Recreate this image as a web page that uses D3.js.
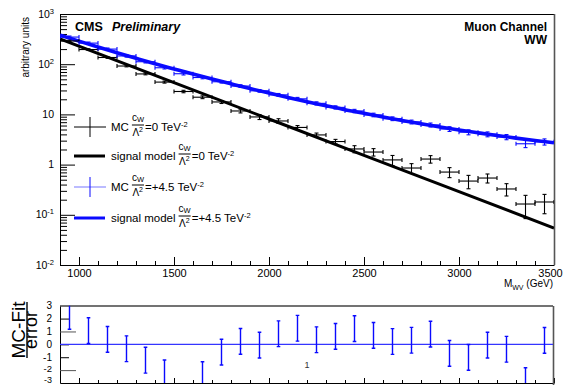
<!DOCTYPE html>
<html>
<head>
<meta charset="utf-8">
<script src="https://cdn.jsdelivr.net/npm/d3@7"></script>
<style>
  body { margin: 0; background: #fff; }
  svg { display: block; }
</style>
</head>
<body>
<svg id="chart" width="563" height="385"></svg>
<script>
// bin centres (GeV), 100 GeV wide
const massBins = [950, 1050, 1150, 1250, 1350, 1450, 1550, 1650, 1750, 1850,
  1950, 2050, 2150, 2250, 2350, 2450, 2550, 2650, 2750, 2850,
  2950, 3050, 3150, 3250, 3350, 3450];
const binWidth = 100;

// MC, cW/L^2 = 0
const mcSM = [290, 196, 136, 92, 64, 44, 28.6, 22, 17.7, 11.7,
  8.9, 7.4, 5.5, 3.9, 2.88, 2.05, 1.78, 1.24, 0.855, 1.29,
  0.71, 0.47, 0.54, 0.327, 0.164, 0.18];
const mcSMErr = [10, 7, 5, 3.5, 2.6, 2.0, 1.6, 1.4, 1.2, 1.0,
  1.0, 0.8, 0.5, 0.35, 0.3, 0.33, 0.3, 0.28, 0.19, 0.22,
  0.16, 0.14, 0.11, 0.09, 0.08, 0.075];

// MC, cW/L^2 = +4.5
const mcAQGC = [347, 263, 200, 146, 112, 85, 64.6, 54.3, 44.7, 36.7,
  29.5, 24.5, 20.4, 16.6, 13.8, 11.7, 9.77, 8.22, 7.08, 6.17,
  5.13, 4.42, 4.03, 3.55, 2.6, 2.85];
const mcAQGCErr = [17, 13, 10, 7.5, 6, 4.6, 3.6, 3.1, 2.6, 2.2,
  1.8, 1.6, 1.4, 1.2, 1.0, 0.9, 0.8, 0.7, 0.62, 0.56,
  0.55, 0.5, 0.45, 0.42, 0.42, 0.4];

// signal models
const smModelMass = [900, 1500, 2000, 2500, 3000, 3500];
const smModel = [318, 43, 8.1, 1.53, 0.289, 0.0546];
const aqgcModelMass = [900, 1000, 1100, 1200, 1300, 1400, 1500, 1600, 1700, 1800,
  1900, 2000, 2100, 2200, 2300, 2400, 2500, 2600, 2700, 2800,
  2900, 3000, 3100, 3200, 3300, 3400, 3500];
const aqgcModel = [380, 288, 220, 169, 131, 102, 80.4, 63.5, 50.6, 40.6,
  32.7, 26.6, 21.8, 17.9, 14.9, 12.4, 10.5, 8.87, 7.57, 6.5,
  5.62, 4.9, 4.3, 3.79, 3.37, 3.02, 2.72];

// (MC - Fit)/error for the +4.5 sample, bars are +-1
const pulls = [2.17, 1.07, 0.39, -0.34, -1.23, -2.22, -4.4, -2.35, -0.6, 0.23,
  -0.06, 0.82, 1.25, 0.36, 0.62, 1.22, 0.7, 0.22, 0.32, 0.79,
  -0.7, -1.01, -0.06, -0.38, -2.82, 0.31];
const pullErr = 1;

// ticks
const xTicks = [1000, 1500, 2000, 2500, 3000, 3500];
const yTicks = [0.01, 0.1, 1, 10, 100, 1000];
const yTickLabels = [["10", "-2"], ["10", "-1"], ["1", ""], ["10", ""], ["10", "2"], ["10", "3"]];
const pullTickLabels = [3, 2, 1, 0, -1, -2, -3];
const pullLongTicks = [1, -2];
const pullShortTicks = [2, 0, -1];

const FONT = '"Liberation Sans", Arial, Helvetica, sans-serif';
const BLUE = "#0a0aff";

const svg = d3.select("#chart").attr("font-family", FONT);

const x = d3.scaleLinear().domain([900, 3500]).range([60, 554]);
const y = d3.scaleLog().domain([0.01, 1000]).range([265, 14]);
const yp = d3.scaleLinear().domain([-3, 3]).range([383, 305.7]);

const defs = svg.append("defs");
defs.append("clipPath").attr("id", "clipTop")
  .append("rect").attr("x", 60).attr("y", 14).attr("width", 494).attr("height", 251);
defs.append("clipPath").attr("id", "clipBot")
  .append("rect").attr("x", 60).attr("y", 305.7).attr("width", 493).attr("height", 77.3);

// ---------- top panel ----------
const topG = svg.append("g");

// x ticks
const xMinor = d3.range(900, 3501, 100).filter(d => !xTicks.includes(d));
topG.append("g").attr("transform", "translate(0,265)")
  .call(d3.axisBottom(x).tickValues(xMinor).tickSize(-4).tickSizeOuter(0).tickFormat(""))
  .call(g => g.select(".domain").remove());
const xAx = topG.append("g").attr("transform", "translate(0,265)")
  .call(d3.axisBottom(x).tickValues(xTicks).tickSize(-8).tickSizeOuter(0).tickPadding(4).tickFormat(d3.format("d")))
  .attr("font-family", null).attr("font-size", 11);
xAx.selectAll("text").attr("fill", "#000")
  .attr("dx", d => d === 3500 ? -4 : 0);

// y ticks
const yMinor = y.ticks().filter(d => !yTicks.some(t => Math.abs(t - d) / t < 1e-6));
topG.append("g").attr("transform", "translate(60,0)")
  .call(d3.axisLeft(y).tickValues(yMinor).tickSize(-7).tickSizeOuter(0).tickFormat(""))
  .call(g => g.select(".domain").remove());
topG.append("g").attr("transform", "translate(60,0)")
  .call(d3.axisLeft(y).tickValues(yTicks).tickSize(-15).tickSizeOuter(0).tickFormat(""));

const yLab = topG.append("g").attr("font-size", 10.5).attr("text-anchor", "end");
yTicks.forEach((t, i) => {
  const txt = yLab.append("text").attr("x", 54).attr("y", y(t)).attr("dy", "0.35em");
  txt.append("tspan").text(yTickLabels[i][0]);
  if (yTickLabels[i][1]) {
    txt.append("tspan").attr("font-size", 7.5).attr("dy", "-0.55em").text(yTickLabels[i][1]);
  }
});

// frame top / right
topG.append("line").attr("x1", 60).attr("x2", 554).attr("y1", 14.5).attr("y2", 14.5).attr("stroke", "#000");
topG.append("line").attr("x1", 554.5).attr("x2", 554.5).attr("y1", 14).attr("y2", 265).attr("stroke", "#555").attr("stroke-width", 1.6);

// axis titles
topG.append("text").attr("transform", "translate(29,17) rotate(-90)")
  .attr("text-anchor", "end").attr("font-size", 10).text("arbitrary units");
const xt = topG.append("text").attr("x", 553).attr("y", 287).attr("text-anchor", "end").attr("font-size", 10);
xt.append("tspan").text("M");
xt.append("tspan").attr("font-size", 7).attr("dy", 2.5).text("WV");
xt.append("tspan").attr("dy", -2.5).text(" (GeV)");

// curves
const plot = topG.append("g").attr("clip-path", "url(#clipTop)");
const line = d3.line().x(d => x(d[0])).y(d => y(d[1]));
plot.append("path")
  .attr("d", line(smModelMass.map((m, i) => [m, smModel[i]])))
  .attr("fill", "none").attr("stroke", "#000").attr("stroke-width", 3);
plot.append("path")
  .attr("d", line.curve(d3.curveMonotoneX)(aqgcModelMass.map((m, i) => [m, aqgcModel[i]])))
  .attr("fill", "none").attr("stroke", BLUE).attr("stroke-width", 3.6);

// MC points with error bars
function drawMC(vals, errs, color) {
  const pts = massBins.map((m, i) => ({ m, v: vals[i], e: errs[i] }));
  const g = plot.append("g").attr("stroke", color).attr("stroke-width", 1.1);
  pts.forEach(p => {
    const cx = x(p.m), cy = y(p.v);
    const xl = x(p.m - binWidth / 2), xr = x(p.m + binWidth / 2);
    const yt = y(p.v + p.e), yb = y(Math.max(p.v - p.e, 1e-4));
    g.append("line").attr("x1", xl).attr("x2", xr).attr("y1", cy).attr("y2", cy);
    g.append("line").attr("x1", xl).attr("x2", xl).attr("y1", cy - 2).attr("y2", cy + 2);
    g.append("line").attr("x1", xr).attr("x2", xr).attr("y1", cy - 2).attr("y2", cy + 2);
    g.append("line").attr("x1", cx).attr("x2", cx).attr("y1", yt).attr("y2", yb);
    g.append("line").attr("x1", cx - 2).attr("x2", cx + 2).attr("y1", yt).attr("y2", yt);
    g.append("line").attr("x1", cx - 2).attr("x2", cx + 2).attr("y1", yb).attr("y2", yb);
  });
}
drawMC(mcSM, mcSMErr, "#000");
drawMC(mcAQGC, mcAQGCErr, BLUE);

// labels
topG.append("text").attr("x", 75).attr("y", 31).attr("font-size", 12.5).attr("font-weight", "bold").text("CMS");
topG.append("text").attr("x", 112).attr("y", 31).attr("font-size", 12.5).attr("font-weight", "bold")
  .attr("font-style", "italic").text("Preliminary");
topG.append("text").attr("x", 547).attr("y", 31).attr("text-anchor", "end").attr("font-size", 12)
  .attr("font-weight", "bold").text("Muon Channel");
topG.append("text").attr("x", 547).attr("y", 44).attr("text-anchor", "end").attr("font-size", 12)
  .attr("font-weight", "bold").text("WW");

// legend
const legendRows = [
  { row: 127, kind: "mc", color: "#000", prefix: "MC", val: "=0 TeV" },
  { row: 156, kind: "line", color: "#000", prefix: "signal model", val: "=0 TeV" },
  { row: 187, kind: "mc", color: BLUE, prefix: "MC", val: "=+4.5 TeV" },
  { row: 218, kind: "line", color: BLUE, prefix: "signal model", val: "=+4.5 TeV" }
];
const leg = topG.append("g").attr("font-size", 11.5);
legendRows.forEach(r => {
  if (r.kind === "mc") {
    leg.append("line").attr("x1", 74).attr("x2", 106).attr("y1", r.row).attr("y2", r.row)
      .attr("stroke", r.color).attr("stroke-opacity", r.color === BLUE ? 0.55 : 1);
    leg.append("line").attr("x1", 90).attr("x2", 90).attr("y1", r.row - 10).attr("y2", r.row + 10)
      .attr("stroke", r.color);
  } else {
    leg.append("line").attr("x1", 74).attr("x2", 105).attr("y1", r.row).attr("y2", r.row)
      .attr("stroke", r.color).attr("stroke-width", 3);
  }
  const pre = leg.append("text").attr("x", 111).attr("y", r.row + 4).text(r.prefix);
  const fx = 111 + pre.node().getComputedTextLength() + 3;
  const num = leg.append("text").attr("x", fx).attr("y", r.row - 6.5).attr("font-size", 10);
  num.append("tspan").text("c");
  num.append("tspan").attr("font-size", 7.5).attr("dy", 1.2).text("W");
  const den = leg.append("text").attr("x", fx + 0.5).attr("y", r.row + 8.5).attr("font-size", 10);
  den.append("tspan").text("\u039B");
  den.append("tspan").attr("font-size", 7).attr("dy", -4).text("2");
  const w = Math.max(num.node().getComputedTextLength(), den.node().getComputedTextLength() + 0.5);
  leg.append("line").attr("x1", fx).attr("x2", fx + w).attr("y1", r.row - 2).attr("y2", r.row - 2)
    .attr("stroke", "#000").attr("stroke-width", 1);
  const vt = leg.append("text").attr("x", fx + w + 1).attr("y", r.row + 4);
  vt.append("tspan").text(r.val);
  vt.append("tspan").attr("font-size", 7.5).attr("dy", -4.5).text("-2");
});

// ---------- bottom panel ----------
const botG = svg.append("g");
botG.append("g").attr("transform", "translate(0,383)")
  .call(d3.axisBottom(x).tickValues(xMinor).tickSize(-3).tickSizeOuter(0).tickFormat(""))
  .call(g => g.select(".domain").remove());
botG.append("g").attr("transform", "translate(0,383)")
  .call(d3.axisBottom(x).tickValues(xTicks).tickSize(-5).tickSizeOuter(0).tickFormat(""));
botG.append("g").attr("transform", "translate(60,0)")
  .call(d3.axisLeft(yp).tickValues(pullShortTicks).tickSize(-9).tickSizeOuter(0).tickFormat(""))
  .call(g => g.select(".domain").remove());
botG.append("g").attr("transform", "translate(60,0)")
  .call(d3.axisLeft(yp).tickValues(pullLongTicks).tickSize(-16).tickSizeOuter(0).tickFormat(""))
  .call(g => g.selectAll(".tick line").attr("stroke", "#555"));
// the two lowest labels sit close to the cut edge, so they are a little smaller
botG.append("g").attr("text-anchor", "end")
  .selectAll("text").data(pullTickLabels).join("text")
  .attr("x", 52)
  .attr("font-size", d => d === -3 ? 9 : d === -2 ? 9.5 : 10)
  .attr("y", d => d === -3 ? 383 : d === -2 ? yp(d) - 1.2 : yp(d))
  .attr("dy", d => d === -3 ? 0 : "0.35em")
  .text(d => d);

botG.append("line").attr("x1", 60).attr("x2", 553).attr("y1", 306).attr("y2", 306)
  .attr("stroke", "#444").attr("stroke-width", 1.3);
botG.append("line").attr("x1", 553.5).attr("x2", 553.5).attr("y1", 306).attr("y2", 385)
  .attr("stroke", "#555").attr("stroke-width", 1.6);

const pplot = botG.append("g").attr("clip-path", "url(#clipBot)");
pplot.append("line").attr("x1", 60).attr("x2", 553).attr("y1", yp(0)).attr("y2", yp(0))
  .attr("stroke", "#3535ff").attr("stroke-width", 1.2);
const pg = pplot.append("g").attr("stroke", BLUE).attr("stroke-width", 1.4);
massBins.forEach((m, i) => {
  const cx = x(m), yt = yp(pulls[i] + pullErr), yb = yp(pulls[i] - pullErr);
  pg.append("line").attr("x1", cx).attr("x2", cx).attr("y1", yt).attr("y2", yb);
  pg.append("line").attr("x1", cx - 1.8).attr("x2", cx + 1.8).attr("y1", yt).attr("y2", yt);
  pg.append("line").attr("x1", cx - 1.8).attr("x2", cx + 1.8).attr("y1", yb).attr("y2", yb);
});

botG.append("text").attr("x", 307).attr("y", 368).attr("text-anchor", "middle")
  .attr("font-size", 9).attr("fill", "#333").text("1");

// y title as fraction
botG.append("text").attr("transform", "translate(25,330) rotate(-90)")
  .attr("text-anchor", "middle").attr("font-size", 19).text("MC-Fit");
botG.append("line").attr("x1", 27).attr("x2", 27).attr("y1", 302).attr("y2", 358)
  .attr("stroke", "#000").attr("stroke-width", 1.4);
botG.append("text").attr("transform", "translate(37,330) rotate(-90)")
  .attr("text-anchor", "middle").attr("font-size", 18).text("error");
</script>
</body>
</html>
